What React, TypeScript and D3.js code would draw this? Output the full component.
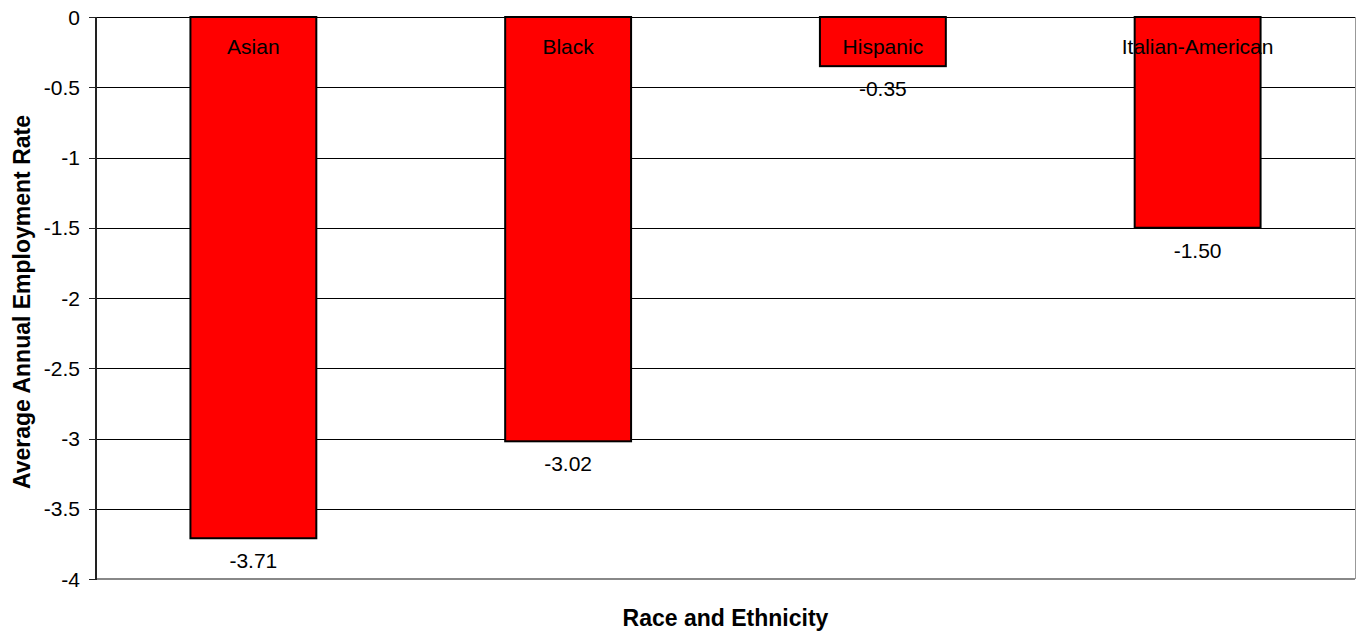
import React from "react";
import * as d3 from "d3";

const categories = ["Asian", "Black", "Hispanic", "Italian-American"];
const values = [-3.71, -3.02, -0.35, -1.5];
const yTicks = [0, -0.5, -1, -1.5, -2, -2.5, -3, -3.5, -4];
const xTitle = "Race and Ethnicity";
const yTitle = "Average Annual Employment Rate";

const W = 1356;
const H = 631;
const M = { left: 96, right: 1355, top: 17, bottom: 579 };
const FONT = "'Liberation Sans', Arial, Helvetica, sans-serif";

export default function App() {
  const x = d3
    .scaleBand<string>()
    .domain(categories)
    .range([M.left, M.right])
    .paddingInner(0.6)
    .paddingOuter(0.3);
  const y = d3.scaleLinear().domain([-4, 0]).range([M.bottom, M.top]);
  const cx = (M.left + M.right) / 2;
  const cy = (M.top + M.bottom) / 2;

  return (
    <svg
      width={W}
      height={H}
      style={{ position: "absolute", left: 0, top: 0, background: "#fff" }}
      fontFamily={FONT}
    >
      {/* gridlines */}
      {yTicks.map((t) => (
        <line
          key={"g" + t}
          x1={M.left}
          x2={M.right}
          y1={Math.round(y(t)) + 0.5}
          y2={Math.round(y(t)) + 0.5}
          stroke={t === -4 ? "none" : "#000"}
          strokeWidth={1}
        />
      ))}
      {/* right border */}
      <line x1={M.right + 0.5} x2={M.right + 0.5} y1={M.top} y2={M.bottom} stroke="#999" strokeWidth={1} />
      {/* bars */}
      {categories.map((c, i) => {
        const v = values[i];
        const y0 = y(0);
        const y1 = y(v);
        return (
          <rect
            key={c}
            x={x(c)!}
            y={Math.min(y0, y1)}
            width={x.bandwidth()}
            height={Math.abs(y1 - y0)}
            fill="#ff0000"
            stroke="#000"
            strokeWidth={2}
          />
        );
      })}
      {/* bottom axis */}
      <line x1={M.left} x2={M.right} y1={M.bottom} y2={M.bottom} stroke="#888" strokeWidth={2} />
      {/* left axis */}
      <line x1={M.left} x2={M.left} y1={M.top} y2={M.bottom + 1} stroke="#222" strokeWidth={2} />
      {/* ticks & labels */}
      {yTicks.map((t) => (
        <g key={"t" + t}>
          <line x1={M.left - 7} x2={M.left} y1={Math.round(y(t)) + 0.5} y2={Math.round(y(t)) + 0.5} stroke="#222" strokeWidth={1} />
          <text x={80} y={y(t)} dy="0.36em" textAnchor="end" fontSize={21} fill="#000">
            {d3.format("")(t).replace("−", "-")}
          </text>
        </g>
      ))}
      {/* category labels inside bars */}
      {categories.map((c) => (
        <text key={"c" + c} x={x(c)! + x.bandwidth() / 2} y={y(0) + 37} textAnchor="middle" fontSize={21} fill="#000">
          {c}
        </text>
      ))}
      {/* value labels */}
      {categories.map((c, i) => (
        <text key={"v" + c} x={x(c)! + x.bandwidth() / 2} y={y(values[i]) + 30} textAnchor="middle" fontSize={21} fill="#000">
          {d3.format(".2f")(values[i]).replace("−", "-")}
        </text>
      ))}
      {/* axis titles */}
      <text x={cx} y={626} textAnchor="middle" fontSize={23} fontWeight="bold" fill="#000">
        {xTitle}
      </text>
      <text
        transform={`translate(30, ${cy + 4}) rotate(-90)`}
        textAnchor="middle"
        fontSize={23}
        fontWeight="bold"
        fill="#000"
      >
        {yTitle}
      </text>
    </svg>
  );
}
